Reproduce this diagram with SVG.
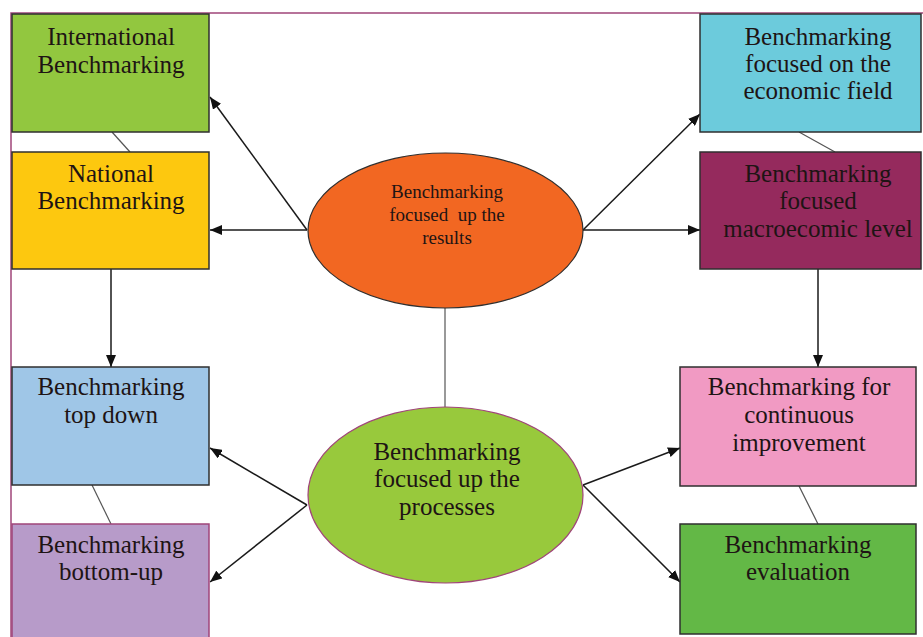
<svg xmlns="http://www.w3.org/2000/svg" width="923" height="637" viewBox="0 0 923 637">
<defs>
<marker id="ah" viewBox="0 0 12 10" refX="12" refY="5" markerWidth="12" markerHeight="10" markerUnits="userSpaceOnUse" orient="auto">
<path d="M0,0 L12,5 L0,10 Z" fill="#111"/>
</marker>
<style>
.box{stroke:#2f2f2f;stroke-width:1.5}
.t{font-family:"Liberation Serif","Times New Roman",serif;font-size:25px;fill:#1e1414;text-anchor:middle}
.ts{font-family:"Liberation Serif","Times New Roman",serif;font-size:19px;fill:#1e1414;text-anchor:middle}
.arr{stroke:#1a1a1a;stroke-width:1.5;fill:none;marker-end:url(#ah)}
.ln{stroke:#555;stroke-width:1.2;fill:none}
</style>
</defs>
<rect width="923" height="637" fill="#ffffff"/>
<path d="M11,637 L11,13 L923,13" fill="none" stroke="#a0457a" stroke-width="1.5"/>

<g id="connectors">
<line class="ln" x1="112" y1="132" x2="130" y2="152"/>
<line class="ln" x1="799" y1="132" x2="835" y2="152"/>
<line class="ln" x1="92" y1="485" x2="111" y2="524"/>
<line class="ln" x1="799" y1="486" x2="818" y2="524"/>
<line class="ln" x1="445" y1="308" x2="445" y2="407"/>
<line class="arr" x1="307" y1="230" x2="210" y2="97"/>
<line class="arr" x1="307" y1="230" x2="210" y2="230"/>
<line class="arr" x1="583" y1="230" x2="700" y2="114"/>
<line class="arr" x1="583" y1="230" x2="700" y2="230"/>
<line class="arr" x1="111" y1="269" x2="111" y2="367"/>
<line class="arr" x1="818" y1="269" x2="818" y2="367"/>
<line class="arr" x1="307" y1="505" x2="210" y2="448"/>
<line class="arr" x1="307" y1="505" x2="210" y2="582"/>
<line class="arr" x1="583" y1="485" x2="680" y2="448"/>
<line class="arr" x1="583" y1="485" x2="680" y2="582"/>
</g>

<g id="international">
<rect class="box" x="12" y="14" width="197" height="118" fill="#92c73f"/>
<text class="t" x="111" y="45">International</text>
<text class="t" x="111" y="73">Benchmarking</text>
</g>
<g id="national">
<rect class="box" x="12" y="152" width="197" height="117" fill="#fdc80f"/>
<text class="t" x="111" y="182">National</text>
<text class="t" x="111" y="209">Benchmarking</text>
</g>
<g id="topdown">
<rect class="box" x="12" y="367" width="197" height="118" fill="#9fc6e7"/>
<text class="t" x="111" y="395">Benchmarking</text>
<text class="t" x="111" y="423">top down</text>
</g>
<g id="bottomup">
<rect x="12" y="524" width="197" height="120" fill="#b79bc9" stroke="#a0457a" stroke-width="1.5"/>
<text class="t" x="111" y="553">Benchmarking</text>
<text class="t" x="111" y="580">bottom-up</text>
</g>
<g id="economic">
<rect class="box" x="700" y="14" width="221" height="118" fill="#6ccbdc"/>
<text class="t" x="818" y="45">Benchmarking</text>
<text class="t" x="818" y="72">focused on the</text>
<text class="t" x="818" y="99">economic field</text>
</g>
<g id="macro">
<rect class="box" x="700" y="152" width="221" height="117" fill="#952a5d"/>
<text class="t" x="818" y="182">Benchmarking</text>
<text class="t" x="818" y="209">focused</text>
<text class="t" x="818" y="237">macroecomic level</text>
</g>
<g id="continuous">
<rect class="box" x="680" y="367" width="236" height="119" fill="#f19ac3"/>
<text class="t" x="799" y="395">Benchmarking for</text>
<text class="t" x="799" y="423">continuous</text>
<text class="t" x="799" y="451">improvement</text>
</g>
<g id="evaluation">
<rect class="box" x="680" y="524" width="236" height="110" fill="#63b846"/>
<text class="t" x="798" y="553">Benchmarking</text>
<text class="t" x="798" y="580">evaluation</text>
</g>
<g id="results">
<ellipse cx="445.5" cy="230.5" rx="137.5" ry="77.5" fill="#f26722" stroke="#2f2f2f" stroke-width="1.2"/>
<text class="ts" x="447" y="198">Benchmarking</text>
<text class="ts" x="447" y="221" xml:space="preserve">focused  up the</text>
<text class="ts" x="447" y="244">results</text>
</g>
<g id="processes">
<ellipse cx="445.5" cy="495" rx="137.5" ry="88" fill="#98c93c" stroke="#a0457a" stroke-width="1.2"/>
<text class="t" x="447" y="460">Benchmarking</text>
<text class="t" x="447" y="487">focused up the</text>
<text class="t" x="447" y="515">processes</text>
</g>
</svg>
